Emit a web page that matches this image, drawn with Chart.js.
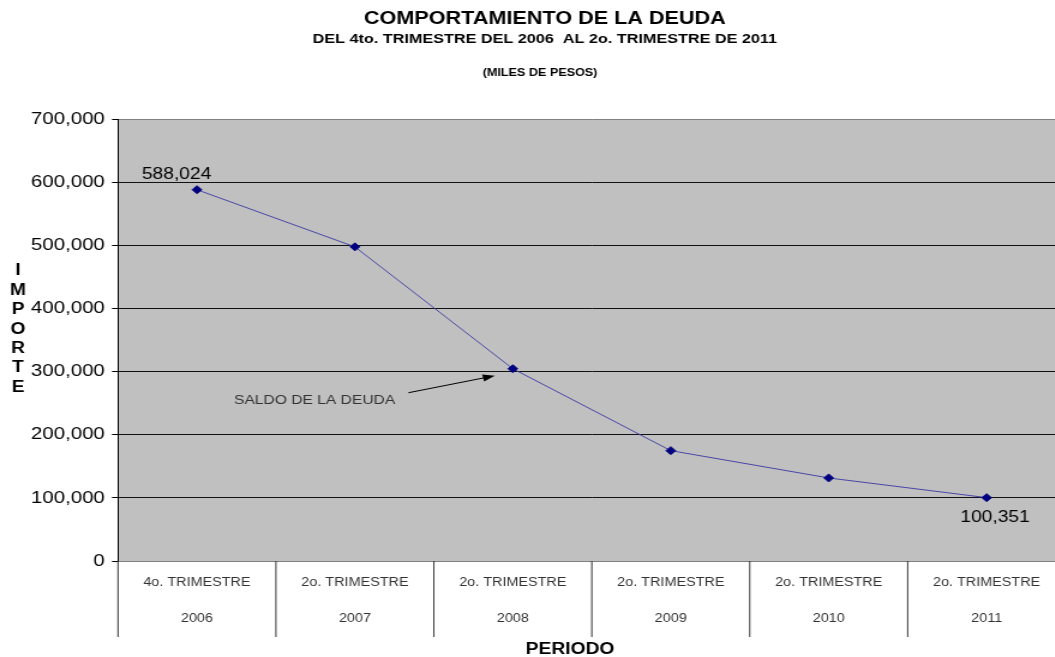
<!DOCTYPE html>
<html>
<head>
<meta charset="utf-8">
<script src="https://cdn.jsdelivr.net/npm/chart.js"></script>
<style>
    body { margin: 0; background: #fff; overflow: hidden; }
    /* the original picture is stretched sideways, so the whole chart is too */
    #wrap { width: 893px; height: 657px; transform: scaleX(1.2); transform-origin: 0 0; }
</style>
</head>
<body>
<div id="wrap"><canvas id="deudaChart"></canvas></div>
<script>
let periodos = ['4o. TRIMESTRE', '2o. TRIMESTRE', '2o. TRIMESTRE', '2o. TRIMESTRE', '2o. TRIMESTRE', '2o. TRIMESTRE'];
let anios = ['2006', '2007', '2008', '2009', '2010', '2011'];
let saldo = [588024, 497500, 304500, 174800, 131500, 100351];
let yTicks = [0, 100000, 200000, 300000, 400000, 500000, 600000, 700000];
let conEtiqueta = [0, 5];

const FONT = "'Liberation Sans', Arial, sans-serif";

function fmt(v) {
    return v.toLocaleString('en-US');
}

const fondoPlugin = {
    id: 'fondo',
    beforeDraw(chart) {
        let a = chart.chartArea;
        let ctx = chart.ctx;
        ctx.save();
        ctx.fillStyle = '#c0c0c0';
        ctx.fillRect(a.left, a.top, a.right - a.left, a.bottom - a.top);
        ctx.restore();
    }
};

const textosPlugin = {
    id: 'textos',
    afterDraw(chart) {
        let ctx = chart.ctx;
        let a = chart.chartArea;
        let x = chart.scales.x;
        let meta = chart.getDatasetMeta(0);
        ctx.save();

        // titles
        ctx.fillStyle = '#000';
        ctx.textAlign = 'center';
        ctx.textBaseline = 'middle';
        ctx.font = 'bold 18px ' + FONT;
        ctx.fillText('COMPORTAMIENTO DE LA DEUDA', 454, 19);
        ctx.font = 'bold 13.5px ' + FONT;
        ctx.fillText('DEL 4to. TRIMESTRE DEL 2006  AL 2o. TRIMESTRE DE 2011', 454, 39);
        ctx.font = 'bold 10.5px ' + FONT;
        ctx.fillText('(MILES DE PESOS)', 450, 73);

        // axis titles
        ctx.font = 'bold 16px ' + FONT;
        ctx.fillText('PERIODO', 475, 650);
        'IMPORTE'.split('').forEach((c, i) => {
            ctx.fillText(c, 15, 271 + i * 19.4);
        });

        // separators under the category axis
        ctx.strokeStyle = '#333';
        ctx.lineWidth = 1;
        for (let i = 0; i <= periodos.length; i++) {
            let px = x.getPixelForValue(i - 0.5);
            ctx.beginPath();
            ctx.moveTo(px, a.bottom);
            ctx.lineTo(px, a.bottom + 76);
            ctx.stroke();
        }

        // value labels
        ctx.font = '16px ' + FONT;
        conEtiqueta.forEach(i => {
            let p = meta.data[i];
            if (i === 0) {
                ctx.fillText(fmt(saldo[i]), p.x - 17, p.y - 15);
            } else {
                ctx.fillText(fmt(saldo[i]), p.x + 7, p.y + 20);
            }
        });

        // annotation with arrow pointing to the 2008 point
        let p = meta.data[2];
        ctx.fillStyle = '#333';
        ctx.font = '13px ' + FONT;
        ctx.textAlign = 'right';
        ctx.fillText('SALDO DE LA DEUDA', p.x - 98, p.y + 32);
        let x0 = p.x - 87, y0 = p.y + 24;
        let x1 = p.x - 15, y1 = p.y + 7;
        let ang = Math.atan2(y1 - y0, x1 - x0);
        ctx.strokeStyle = '#000';
        ctx.beginPath();
        ctx.moveTo(x0, y0);
        ctx.lineTo(x1 - 8 * Math.cos(ang), y1 - 8 * Math.sin(ang));
        ctx.stroke();
        ctx.fillStyle = '#000';
        ctx.beginPath();
        ctx.moveTo(x1, y1);
        ctx.lineTo(x1 - 10 * Math.cos(ang) + 3.5 * Math.sin(ang), y1 - 10 * Math.sin(ang) - 3.5 * Math.cos(ang));
        ctx.lineTo(x1 - 10 * Math.cos(ang) - 3.5 * Math.sin(ang), y1 - 10 * Math.sin(ang) + 3.5 * Math.cos(ang));
        ctx.closePath();
        ctx.fill();

        ctx.restore();
    }
};

let ctx = document.getElementById('deudaChart').getContext('2d');
let deudaChart = new Chart(ctx, {
    type: 'line',
    data: {
        labels: periodos.map((p, i) => [p, anios[i]]),
        datasets: [{
            label: 'SALDO DE LA DEUDA',
            data: saldo,
            borderColor: '#4848a8',
            borderWidth: 1,
            pointStyle: 'rectRot',
            pointRadius: 4,
            pointBackgroundColor: '#000080',
            pointBorderColor: '#000080',
            pointBorderWidth: 1,
            tension: 0
        }]
    },
    options: {
        responsive: true,
        maintainAspectRatio: false,
        animation: false,
        layout: { padding: { left: 0, top: 119, right: 0, bottom: 0 } },
        plugins: {
            legend: { display: false },
            tooltip: { enabled: false },
            title: { display: false }
        },
        scales: {
            x: {
                offset: true,
                grid: { display: false, drawTicks: false, offset: true },
                border: { display: false },
                ticks: {
                    padding: 4,
                    maxRotation: 0,
                    autoSkip: false,
                    color: '#333',
                    font: { family: FONT, size: 12, lineHeight: 3 }
                },
                afterFit(scale) { scale.height = 96; }
            },
            y: {
                min: 0,
                max: 700000,
                afterBuildTicks(scale) {
                    scale.ticks = yTicks.map(v => ({ value: v }));
                },
                grid: {
                    color: c => (c.tick && (c.tick.value === 0 || c.tick.value === 700000)) ? '#808080' : '#111',
                    tickColor: '#000',
                    tickLength: 5,
                    lineWidth: 1
                },
                border: { display: true, color: '#000', width: 1 },
                ticks: {
                    padding: 6,
                    color: '#000',
                    font: { family: FONT, size: 17 },
                    callback: v => fmt(v)
                },
                afterFit(scale) { scale.width = 98.3; }
            }
        }
    },
    plugins: [fondoPlugin, textosPlugin]
});
</script>
</body>
</html>
